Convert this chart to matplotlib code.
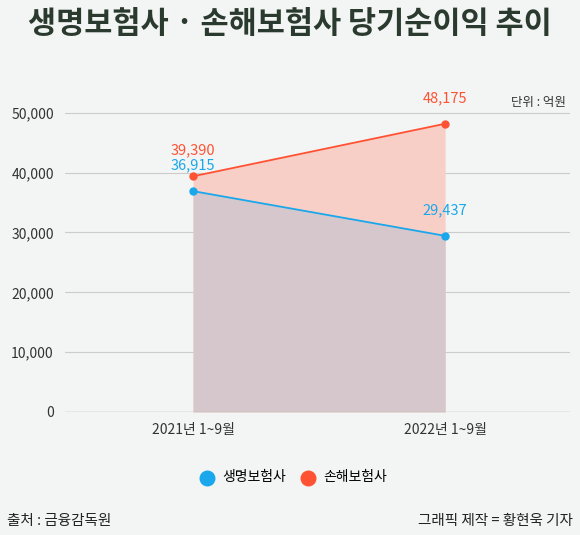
import matplotlib.pyplot as plt

plt.rcParams['font.family'] = ['Noto Sans CJK KR', 'DejaVu Sans']

periods = ["2021년 1~9월", "2022년 1~9월"]
life = [36915, 29437]
nonlife = [39390, 48175]
yticks = [0, 10000, 20000, 30000, 40000, 50000]

bg = "#f3f5f4"
blue = "#1aa7ec"
red = "#ff5233"

fig = plt.figure(figsize=(5.8, 5.35), dpi=100, facecolor=bg)
ax = fig.add_axes([0.112, 0.230, 0.871, 0.615], facecolor=bg)

x = range(len(periods))
ax.fill_between(x, nonlife, 0, color="#f8cfc6", lw=0)
ax.fill_between(x, life, 0, color="#d5c7cc", lw=0)
ax.plot(x, nonlife, color=red, lw=1.3, marker="o", ms=5)
ax.plot(x, life, color=blue, lw=1.3, marker="o", ms=5)

for i in x:
    ax.text(i, nonlife[i] + 4300, format(nonlife[i], ","), color=red, ha="center", va="center", fontsize=10.5)
    ax.text(i, life[i] + 4300, format(life[i], ","), color=blue, ha="center", va="center", fontsize=10.5)

ax.set_xlim(-0.508, 1.496)
ax.set_ylim(0, 55000)
ax.set_yticks(yticks)
ax.set_yticklabels([format(v, ",") for v in yticks], fontsize=10, color="#333333")
ax.set_xticks(list(x))
ax.set_xticklabels(periods, fontsize=10, color="#333333")
ax.tick_params(length=0, pad=8)
ax.grid(axis="y", color="#cccccc", lw=0.8)
ax.set_axisbelow(True)
for s in ax.spines.values():
    s.set_visible(False)
ax.axhline(0, color="#bbbbbb", lw=1)

fig.text(0.5, 0.955, "생명보험사 · 손해보험사 당기순이익 추이", ha="center", va="center",
         fontsize=22, fontweight="bold", color="#2b3a2e")
fig.text(0.975, 0.808, "단위 : 억원", ha="right", va="center", fontsize=9, color="#333333")

ax.scatter([], [], color=blue, s=110, label="생명보험사")
ax.scatter([], [], color=red, s=110, label="손해보험사")
fig.legend(loc="center", bbox_to_anchor=(0.5, 0.108), ncol=2, frameon=False,
           fontsize=10, handletextpad=0.1, columnspacing=0.6)

fig.text(0.012, 0.027, "출처 : 금융감독원", fontsize=10.5, color="#222222", va="center")
fig.text(0.988, 0.027, "그래픽 제작 = 황현욱 기자", fontsize=10.5, color="#222222", va="center", ha="right")

fig.savefig("out.png", dpi=100, facecolor=bg)
